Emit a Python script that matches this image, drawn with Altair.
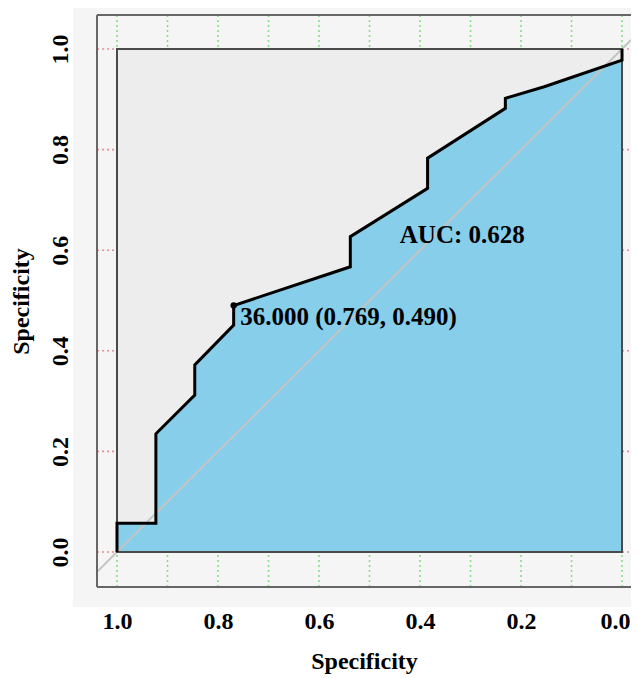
import altair as alt
import pandas as pd

# ROC curve (x = specificity, drawn reversed; y = sensitivity)
spec = [1.0, 1.0, 0.923, 0.923, 0.846, 0.846, 0.769, 0.769, 0.538, 0.538,
        0.385, 0.385, 0.231, 0.231, 0.154, 0.0, 0.0]
sens = [0.0, 0.057, 0.057, 0.235, 0.312, 0.372, 0.451, 0.490, 0.567, 0.627,
        0.723, 0.783, 0.882, 0.902, 0.925, 0.978, 1.0]

x_ticks = [1.0, 0.8, 0.6, 0.4, 0.2, 0.0]
y_ticks = [0.0, 0.2, 0.4, 0.6, 0.8, 1.0]
green_grid = [0.0, 0.1, 0.2, 0.3, 0.4, 0.5, 0.6, 0.7, 0.8, 0.9, 1.0]
red_grid = [0.0, 0.2, 0.4, 0.6, 0.8, 1.0]

cut_spec = [0.769]
cut_sens = [0.490]
cut_label = ["36.000 (0.769, 0.490)"]
cut_label_pos = ([0.756], [0.467])
auc_label = ["AUC: 0.628"]
auc_label_pos = ([0.44], [0.630])

W, H = 534, 572
X_LO, X_HI = -0.0178, 1.0396
Y_LO, Y_HI = -0.0696, 1.0676
FONT = "Liberation Serif"

xs = alt.Scale(domain=[X_LO, X_HI], reverse=True, nice=False, zero=False)
ys = alt.Scale(domain=[Y_LO, Y_HI], nice=False, zero=False)

X_AX = alt.Axis(values=x_ticks, format=".1f", title="Specificity", domain=False, grid=False,
                tickColor="#555555", tickWidth=2, tickSize=13,
                labelFont=FONT, labelFontSize=24, labelFontWeight="bold", labelColor="black",
                labelPadding=9, labelFlush=False, labelOverlap=False,
                labelOffset={"condition": {"test": "datum.value === 0", "value": -7}, "value": 0},
                titleFont=FONT, titleFontSize=24, titleFontWeight="bold", titleColor="black",
                titlePadding=16)
Y_AX = alt.Axis(values=y_ticks, format=".1f", title="Specificity", domain=False, grid=False,
                tickColor="#555555", tickWidth=2, tickSize=14,
                labelFont=FONT, labelFontSize=24, labelFontWeight="bold", labelColor="black",
                labelAngle=270, labelAlign="center", labelBaseline="alphabetic",
                labelPadding=16, labelFlush=False, labelOverlap=False,
                titleFont=FONT, titleFontSize=24, titleFontWeight="bold", titleColor="black",
                titlePadding=15)


def X(field=None, datum=None):
    if datum is not None:
        return alt.X(datum=datum, type="quantitative", scale=xs, axis=X_AX)
    return alt.X(field, type="quantitative", scale=xs, axis=X_AX)


def Y(field=None, datum=None):
    if datum is not None:
        return alt.Y(datum=datum, type="quantitative", scale=ys, axis=Y_AX)
    return alt.Y(field, type="quantitative", scale=ys, axis=Y_AX, stack=None)


one = pd.DataFrame({"k": [0]})
roc = pd.DataFrame({"spec": spec, "sens": sens, "i": list(range(len(spec)))})
roc_area = pd.DataFrame({"spec": spec, "sens": sens})
gdf = pd.DataFrame({"g": green_grid})
rdf = pd.DataFrame({"r": red_grid})
diag = pd.DataFrame({"dx": [X_HI, X_LO], "dy": [1 - X_HI, 1 - X_LO]})

# light grey backdrop around the frame
bg = alt.Chart(one).mark_rect(fill="#f5f5f5").encode(
    x=X(datum=1.0871), x2=alt.X2(datum=X_LO), y=Y(datum=-0.1093), y2=alt.Y2(datum=1.09))

green = alt.Chart(gdf).mark_rule(color="#86e086", strokeDash=[2, 3], strokeWidth=1.6).encode(
    x=X("g"), y=alt.value(0), y2=alt.value(H))
red = alt.Chart(rdf).mark_rule(color="#e89090", strokeDash=[2, 3], strokeWidth=1.6).encode(
    y=Y("r"), x=alt.value(0), x2=alt.value(W))

square = alt.Chart(one).mark_rect(fill="#ededed").encode(
    x=X(datum=1.0), x2=alt.X2(datum=0.0), y=Y(datum=0.0), y2=alt.Y2(datum=1.0))

area = alt.Chart(roc_area).mark_area(color="#87ceeb", opacity=1).encode(
    x=X("spec"), y=Y("sens"))

diag_line = alt.Chart(diag).mark_line(color="#c4c4c4", strokeWidth=2).encode(
    x=X("dx"), y=Y("dy"))

square_border = alt.Chart(one).mark_rect(fillOpacity=0, stroke="#4a4a4a", strokeWidth=2).encode(
    x=X(datum=1.0), x2=alt.X2(datum=0.0), y=Y(datum=0.0), y2=alt.Y2(datum=1.0))

frame_left = alt.Chart(one).mark_rule(color="#666666", strokeWidth=2).encode(
    x=alt.value(0), y=alt.value(0), y2=alt.value(H))
frame_top = alt.Chart(one).mark_rule(color="#666666", strokeWidth=2).encode(
    x=alt.value(0), x2=alt.value(W + 2), y=alt.value(0))
frame_bottom = alt.Chart(one).mark_rule(color="#666666", strokeWidth=2).encode(
    x=alt.value(0), x2=alt.value(W + 2), y=alt.value(H))

curve = alt.Chart(roc).mark_line(color="black", strokeWidth=3).encode(
    x=X("spec"), y=Y("sens"), order=alt.Order("i:Q"))

pt = alt.Chart(pd.DataFrame({"s": cut_spec, "t": cut_sens})).mark_circle(
    color="black", size=40, opacity=1).encode(x=X("s"), y=Y("t"))

txt_cut = alt.Chart(pd.DataFrame({"x": cut_label_pos[0], "y": cut_label_pos[1], "l": cut_label})).mark_text(
    align="left", baseline="middle", font=FONT, fontSize=25, fontWeight="bold", color="black").encode(
    x=X("x"), y=Y("y"), text="l:N")
txt_auc = alt.Chart(pd.DataFrame({"x": auc_label_pos[0], "y": auc_label_pos[1], "l": auc_label})).mark_text(
    align="left", baseline="middle", font=FONT, fontSize=25, fontWeight="bold", color="black").encode(
    x=X("x"), y=Y("y"), text="l:N")

chart = alt.layer(
    bg, green, red, square, area, diag_line, square_border,
    frame_left, frame_top, frame_bottom, curve, pt, txt_cut, txt_auc
).properties(
    width=W, height=H,
    autosize=alt.AutoSizeParams(type="none"),
    padding={"left": 89, "top": 7, "right": 0, "bottom": 90},
    background="white",
).configure_view(stroke=None)

chart.save("out.html", embed_options={"renderer": "svg", "actions": False})
